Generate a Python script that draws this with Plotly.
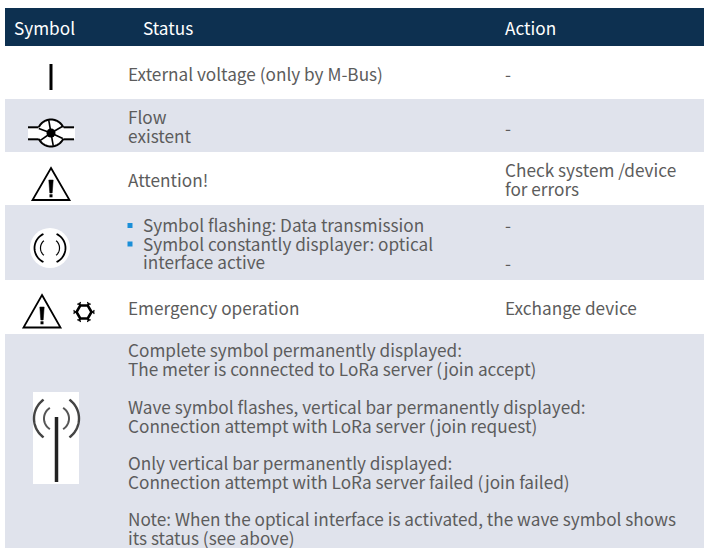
import math
import plotly.graph_objects as go

# ---------- table content ----------
header_labels = ["Symbol", "Status", "Action"]
status_external = ["External voltage (only by M-Bus)"]
status_flow = ["Flow", "existent"]
status_attention = ["Attention!"]
status_optical = ["Symbol flashing: Data transmission", "Symbol constantly displayer: optical", "interface active"]
status_emergency = ["Emergency operation"]
status_lora = [
    "Complete symbol permanently displayed:",
    "The meter is connected to LoRa server (join accept)",
    "Wave symbol flashes, vertical bar permanently displayed:",
    "Connection attempt with LoRa server (join request)",
    "Only vertical bar permanently displayed:",
    "Connection attempt with LoRa server failed (join failed)",
    "Note: When the optical interface is activated, the wave symbol shows",
    "its status (see above)",
]
action_dash = ["-"]
action_attention = ["Check system /device", "for errors"]
action_emergency = ["Exchange device"]

# ---------- layout ----------
W, H = 704, 548
NAVY, BAND, TXT, BLUE = "#0d3050", "#e0e3ec", "#5c5c5c", "#1b8fd8"
FONT = "Noto Sans CJK SC"
FS = 17.2
X_SYM, X_ST, X_ST2, X_ACT = 13, 127, 142, 504
shapes, annos = [], []


def rect(x0, y0, x1, y1, fill):
    shapes.append(dict(type="rect", x0=x0, y0=y0, x1=x1, y1=y1, fillcolor=fill,
                       line=dict(width=0), layer="below"))


def path(d, color="#000000", width=2.0, fill=None):
    s = dict(type="path", path=d, line=dict(color=color, width=width), layer="above")
    if fill:
        s["fillcolor"] = fill
    shapes.append(s)


def seg(x0, y0, x1, y1, color="#000000", width=2.0):
    path(f"M{x0},{y0} L{x1},{y1}", color, width)


def arc(cx, cy, rx, ry, a0, a1, color="#000000", width=2.0, n=24):
    pts = []
    for i in range(n + 1):
        a = math.radians(a0 + (a1 - a0) * i / n)
        pts.append(f"{cx + rx * math.cos(a):.2f},{cy - ry * math.sin(a):.2f}")
    path("M" + " L".join(pts), color, width)


def text(s, x, y, color=TXT, size=FS):
    annos.append(dict(text=s, x=x, y=y - 1, xref="x", yref="y", xanchor="left", yanchor="middle",
                      showarrow=False, borderpad=0, align="left",
                      font=dict(family=FONT, size=size, color=color)))


def warning(cx, top, half, bottom):
    path(f"M{cx},{top} L{cx + half},{bottom} L{cx - half},{bottom} Z", width=1.8, fill="#ffffff")
    path(f"M{cx - 2.2},{top + 12} L{cx + 2.2},{top + 12} L{cx + 1.2},{top + 25} "
         f"L{cx - 1.2},{top + 25} Z", width=0.5, fill="#000000")
    seg(cx, top + 26.3, cx, top + 29.3, width=3)


# bands
rect(5, 8, W, 46, NAVY)
rect(5, 99, W, 152, BAND)
rect(5, 205, W, 280, BAND)
rect(5, 334, W, H, BAND)

# header
for lab, x in zip(header_labels, [X_SYM, X_ST2, X_ACT]):
    text(lab, x, 28, "#ffffff", FS)

# status column
text(status_external[0], X_ST, 74)
for s, y in zip(status_flow, [117, 136]):
    text(s, X_ST, y)
text(status_attention[0], X_ST, 180)
for s, y in zip(status_optical, [225, 244, 262]):
    text(s, X_ST2, y)
text(status_emergency[0], X_ST, 308)
for s, y in zip(status_lora, [350, 369, 407, 426, 463, 482, 519, 538]):
    text(s, X_ST, y)

# action column
for y in [74, 128, 225, 263]:
    text(action_dash[0], X_ACT, y)
for s, y in zip(action_attention, [170, 189]):
    text(s, X_ACT, y)
text(action_emergency[0], X_ACT, 308)

# bullets
for y in [225.5, 244]:
    rect(127.5, y - 2.5, 132.5, y + 2.5, BLUE)

# icon: external voltage bar
seg(51, 64, 51, 90, width=3)

# icon: flow
rect(28, 128, 75, 139, "#ffffff")
seg(28, 127.3, 39, 127.3, width=2)
seg(28, 139.3, 39, 139.3, width=2)
seg(63, 127.3, 74, 127.3, width=2)
seg(63, 139.3, 74, 139.3, width=2)
shapes.append(dict(type="circle", x0=37.5, y0=119.5, x1=64.5, y1=146.5, fillcolor="#ffffff",
                   line=dict(width=0), layer="above"))
arc(51, 133, 13.5, 13.5, 26, 154, width=2)
arc(51, 133, 13.5, 13.5, 206, 334, width=2)
for ang in [100, 160, 215, 280, 335, 30]:
    a = math.radians(ang)
    seg(51, 133, 51 + 13 * math.cos(a), 133 - 13 * math.sin(a), width=1.6)
shapes.append(dict(type="circle", x0=46.5, y0=128.5, x1=55.5, y1=137.5, fillcolor="#000000",
                   line=dict(width=0), layer="above"))

# icon: attention
warning(51, 168, 18.5, 200)

# icon: optical interface
shapes.append(dict(type="circle", x0=30, y0=228, x1=70, y1=268, fillcolor="#ffffff",
                   line=dict(width=0), layer="above"))
arc(50, 248, 15.5, 15.5, 115, 245, width=1.8)
arc(50, 248, 15.5, 15.5, -65, 65, width=1.8)
arc(50, 248, 9.5, 9.5, 130, 230, width=1.2)
arc(50, 248, 9.5, 9.5, -50, 50, width=1.2)

# icon: emergency
warning(42, 295, 18.5, 327.5)
hex_cx, hex_cy, hex_r = 84, 312, 7.5
hex_pts = [(hex_cx + hex_r * math.cos(math.radians(60 * i)),
            hex_cy - hex_r * math.sin(math.radians(60 * i))) for i in range(6)]
path("M" + " L".join(f"{x:.2f},{y:.2f}" for x, y in hex_pts) + " Z", width=2.6)
for i, (x, y) in enumerate(hex_pts):
    c = math.radians(60 * i)
    seg(x, y, hex_cx + (hex_r + 3) * math.cos(c), hex_cy - (hex_r + 3) * math.sin(c), width=1.5)
    for d in (-50, 50):
        b = math.radians(60 * i + d)
        seg(x + 1.2 * math.cos(c), y - 1.2 * math.sin(c),
            x + 1.2 * math.cos(c) + 2.6 * math.cos(b), y - 1.2 * math.sin(c) - 2.6 * math.sin(b), width=1.1)

# icon: LoRa antenna
rect(33, 392, 79, 484, "#ffffff")
shapes[-1]["layer"] = "above"
seg(56.5, 417, 56.5, 482, color="#222222", width=3.5)
arc(56.5, 418.5, 22.5, 23, 125, 235, color="#444444", width=2.4)
arc(56.5, 418.5, 22.5, 23, -55, 55, color="#444444", width=2.4)
arc(56.5, 418.5, 12.5, 12.5, 122, 238, color="#555555", width=2)
arc(56.5, 418.5, 12.5, 12.5, -58, 58, color="#555555", width=2)

fig = go.Figure()
fig.update_layout(
    width=W, height=H, margin=dict(l=0, r=0, t=0, b=0), autosize=False,
    paper_bgcolor="#ffffff", plot_bgcolor="#ffffff", showlegend=False,
    xaxis=dict(range=[0, W], visible=False, fixedrange=True),
    yaxis=dict(range=[H, 0], visible=False, fixedrange=True),
    shapes=shapes, annotations=annos,
)
fig.write_html("out.html", config=dict(displayModeBar=False, responsive=False),
               post_script="document.body.style.margin='0';document.documentElement.style.overflow='hidden';")
